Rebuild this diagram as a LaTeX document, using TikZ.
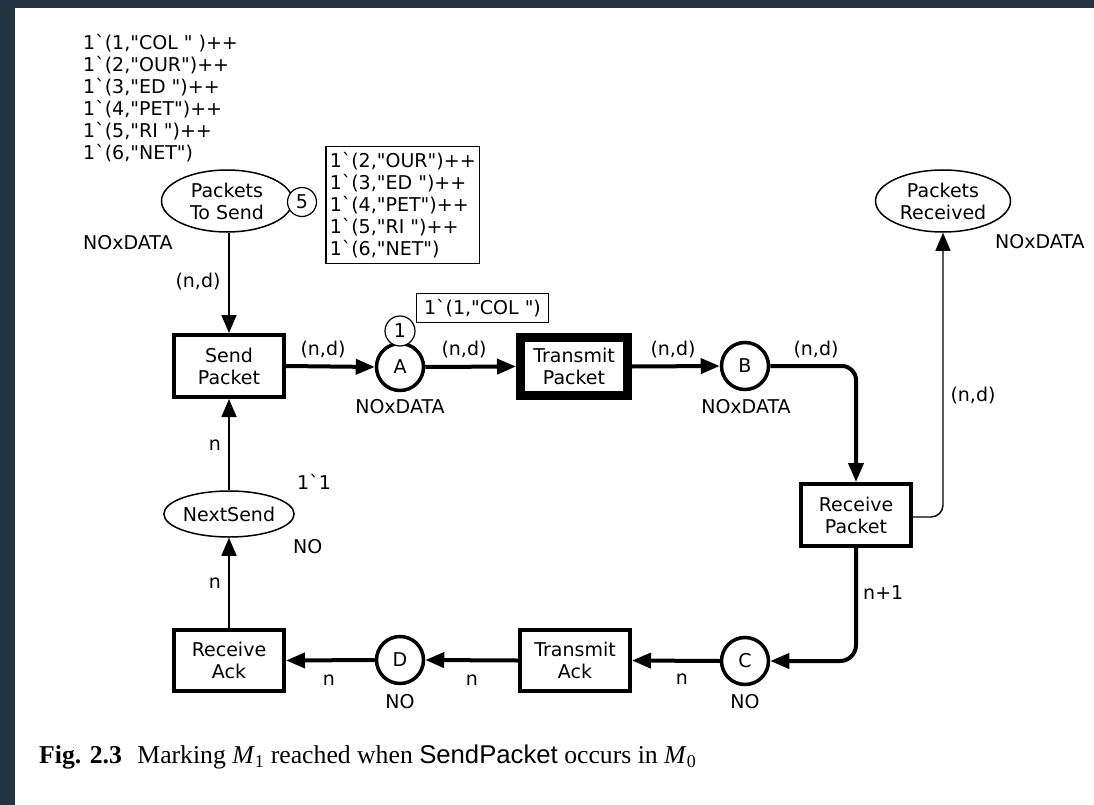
\documentclass[tikz,border=0pt]{standalone}
\usepackage{fontspec}
\newfontfamily\dv{DejaVu Sans}
\newfontfamily\capserif{Liberation Serif}
\newfontfamily\capsans{Liberation Sans}
\usetikzlibrary{shapes.geometric,arrows.meta}
\newcommand{\bq}{\symbol{96}}
\definecolor{frame}{RGB}{36,51,66}
\tikzset{
  base/.style={font=\dv\fontsize{19}{22}\selectfont},
  trans/.style={base, draw, line width=4pt, minimum width=110pt, minimum height=62pt, inner sep=0pt, align=center},
  place/.style={base, circle, draw, line width=3.5pt, minimum size=47pt, inner sep=0pt},
  eplace/.style={base, ellipse, draw, line width=1.5pt, inner sep=0pt, align=center},
  token/.style={base, circle, draw, line width=1.2pt, fill=white, minimum size=29pt, inner sep=0pt},
  mbox/.style={base, draw, line width=1.5pt, fill=white, align=left},
  lbl/.style={base, inner sep=0pt},
  arcthick/.style={line width=4pt, -{Triangle[length=19pt,width=15pt]}},
  arcthin/.style={line width=1.6pt, -{Triangle[length=18pt,width=15pt]}},
}
\begin{document}
\begin{tikzpicture}[x=1pt,y=-1pt]
\useasboundingbox (0,0) rectangle (1094,805);
\fill[white] (0,0) rectangle (1094,805);
\fill[frame] (0,0) rectangle (1094,8);
\fill[frame] (0,0) rectangle (15,805);

% initial marking
\node[lbl, anchor=west, align=left] (im) at (83,98) {1\bq(1,"COL " )++\\1\bq(2,"OUR")++\\1\bq(3,"ED ")++\\1\bq(4,"PET")++\\1\bq(5,"RI ")++\\1\bq(6,"NET")};

% places
\node[eplace, minimum width=131pt, minimum height=62pt] (pts) at (227,201) {Packets\\To Send};
\node[eplace, minimum width=135pt, minimum height=62pt] (pr) at (943,201) {Packets\\Received};
\node[eplace, minimum width=125pt, minimum height=46pt] (ns) at (229,514) {NextSend};
\node[place] (A) at (400,367) {A};
\node[place] (B) at (745,366) {B};
\node[place] (C) at (745,661) {C};
\node[place] (D) at (400,660) {D};

% transitions
\node[trans] (sp) at (229,366) {Send\\Packet};
\node[trans, line width=9pt, minimum width=107pt, minimum height=58pt] (tp) at (574,366.5) {Transmit\\Packet};
\node[trans] (rp) at (856,515) {Receive\\Packet};
\node[trans, minimum height=61pt] (ta) at (575,660.5) {Transmit\\Ack};
\node[trans, minimum height=61pt] (ra) at (229,660.5) {Receive\\Ack};

% arcs
\draw[arcthin] (sp.north |- pts.south) -- (sp.north);
\draw[arcthick] (sp.east) -- (A.west);
\draw[arcthick] (A.east) -- (tp.west);
\draw[arcthick] (tp.east) -- (B.west);
\draw[arcthick, rounded corners=14pt] (B.east) -| (rp.north);
\draw[arcthin, line width=1.4pt, rounded corners=12pt] ([yshift=-2pt]rp.east) -| (pr.south);
\draw[arcthick, rounded corners=16pt] (rp.south) |- (C.east);
\draw[arcthick] (C.west) -- (ta.east);
\draw[arcthick] (ta.west) -- (D.east);
\draw[arcthick] (D.west) -- (ra.east);
\draw[arcthin] (ra.north) -- (ns.south);
\draw[arcthin] (ns.north) -- (sp.south);

% tokens and markings
\node[token] (t5) at (302,202) {5};
\node[token, minimum size=30pt] (t1) at (400,331) {1};
\node[mbox, anchor=north west, inner xsep=4pt, inner ysep=5.5pt] (m5) at (325,146) {1\bq(2,"OUR")++\\1\bq(3,"ED ")++\\1\bq(4,"PET")++\\1\bq(5,"RI ")++\\1\bq(6,"NET")};
\node[mbox, minimum width=132pt, minimum height=29pt, inner sep=0pt] (m1) at (482.5,308) {1\bq(1,"COL ")};

% colour sets
\node[lbl, anchor=west] (cs1) at (83,243) {NOxDATA};
\node[lbl] (cs2) at (400,407) {NOxDATA};
\node[lbl] (cs3) at (746,407) {NOxDATA};
\node[lbl, anchor=west] (cs4) at (995,242) {NOxDATA};
\node[lbl, anchor=west] (cs5) at (293,547) {NO};
\node[lbl] (cs6) at (745,702) {NO};
\node[lbl] (cs7) at (400,702) {NO};
\node[lbl, anchor=west] (im2) at (297,482) {1\bq1};

% arc inscriptions
\node[lbl] (e1) at (198,282) {(n,d)};
\node[lbl] (e2) at (323,350) {(n,d)};
\node[lbl] (e3) at (464,350) {(n,d)};
\node[lbl] (e4) at (673,350) {(n,d)};
\node[lbl] (e5) at (816,350) {(n,d)};
\node[lbl] (e6) at (973,396) {(n,d)};
\node[lbl, anchor=west] (e7) at (863,593) {n+1};
\node[lbl] (e8) at (682,679) {n};
\node[lbl] (e9) at (472,680) {n};
\node[lbl] (e10) at (329,680) {n};
\node[lbl] (e11) at (215,445) {n};
\node[lbl] (e12) at (215,583) {n};

% caption
\node[inner sep=0pt, anchor=west, font=\fontsize{25.7}{30}\selectfont\capserif] (cap) at (39,757) {\textbf{Fig. 2.3}\hspace{0.6em}Marking \textit{M}\textsubscript{1} reached when {\capsans SendPacket} occurs in \textit{M}\textsubscript{0}};
\end{tikzpicture}
\end{document}
